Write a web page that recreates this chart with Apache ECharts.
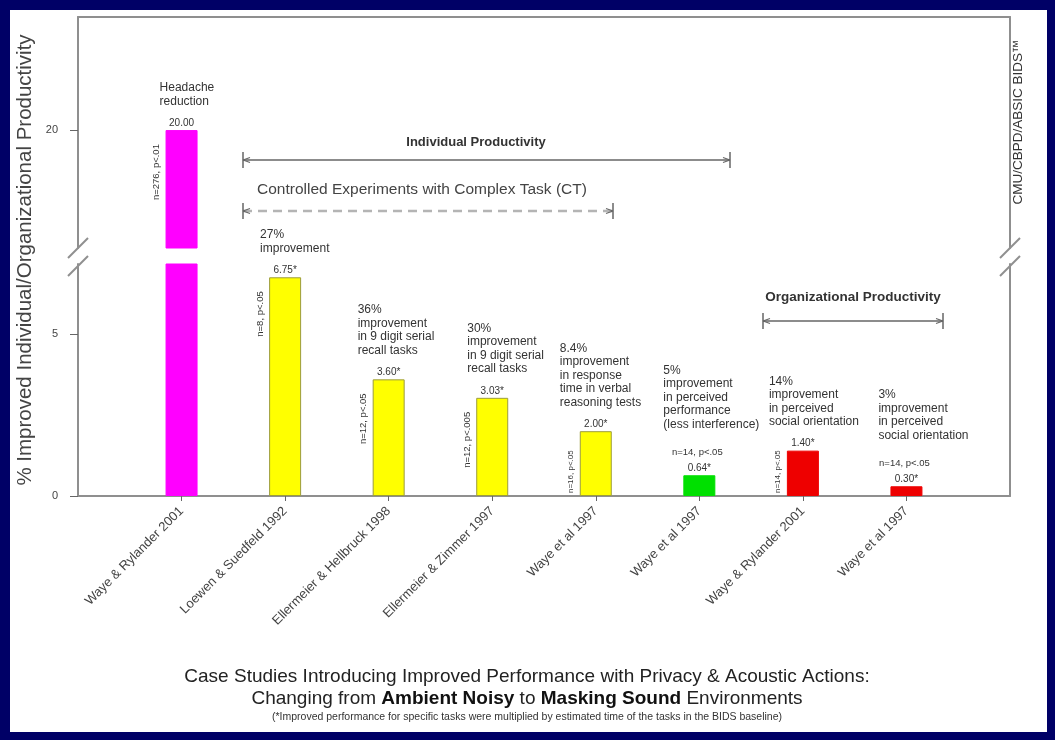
<!DOCTYPE html>
<html>
<head>
<meta charset="utf-8">
<script src="https://cdn.jsdelivr.net/npm/echarts@6/dist/echarts.min.js"></script>
<style>
  html, body { margin: 0; padding: 0; width: 1055px; height: 740px; overflow: hidden; background: #000066; }
  #chart { position: absolute; left: 10px; top: 10px; width: 1037px; height: 722px; background: #ffffff; }
</style>
</head>
<body>
<div id="chart"></div>
<script>
// ---- data ----
const studies = [
  'Waye & Rylander 2001',
  'Loewen & Suedfeld 1992',
  'Ellermeier & Hellbruck 1998',
  'Ellermeier & Zimmer 1997',
  'Waye et al 1997',
  'Waye et al 1997',
  'Waye & Rylander 2001',
  'Waye et al 1997'
];
const improvement = [20.00, 6.75, 3.60, 3.03, 2.00, 0.64, 1.40, 0.30];
const valueLabels = ['20.00', '6.75*', '3.60*', '3.03*', '2.00*', '0.64*', '1.40*', '0.30*'];
const barColors = ['#ff00ff', '#ffff00', '#ffff00', '#ffff00', '#ffff00', '#00e000', '#ee0000', '#ee0000'];
const findings = [
  'Headache\nreduction',
  '27%\nimprovement',
  '36%\nimprovement\nin 9 digit serial\nrecall tasks',
  '30%\nimprovement\nin 9 digit serial\nrecall tasks',
  '8.4%\nimprovement\nin response\ntime in verbal\nreasoning tests',
  '5%\nimprovement\nin perceived\nperformance\n(less interference)',
  '14%\nimprovement\nin perceived\nsocial orientation',
  '3%\nimprovement\nin perceived\nsocial orientation'
];
// sample notes written sideways beside a bar
const sideNotes = ['n=276, p<.01', 'n=8, p<.05', 'n=12, p<.05', 'n=12, p<.005', 'n=16, p<.05', '', 'n=14, p<.05', ''];
// sample notes written above the value label
const topNotes = ['', '', '', '', '', 'n=14, p<.05', '', 'n=14, p<.05'];
const lowerTicks = [0, 5];
const upperTicks = [20];

// ---- layout ----
const LOWER_MAX = 7.16;
const UPPER_MIN = 16.35, UPPER_MAX = 23.5;
const noteDx = [-22, -25, -31, -25, -36, -36, -34, -28];
const FONT = "'Liberation Sans', Arial, sans-serif";
const TXT = '#333333';
const FRAME = '#8f8f8f';

const cats = [''].concat(studies, [' ']);
const barItems = improvement.map((v, i) => ({
  value: v,
  itemStyle: {
    color: barColors[i],
    borderColor: barColors[i] === '#ffff00' ? '#9c9c3c' : barColors[i],
    borderWidth: 1
  }
}));
const lowerData = [null].concat(barItems, [null]);
const upperData = [null].concat(barItems.map(d => (d.value >= UPPER_MIN ? d : null)), [null]);

const chart = echarts.init(document.getElementById('chart'), null, { renderer: 'canvas' });

const frameLine = { show: true, lineStyle: { color: FRAME, width: 2 } };
const valueLabel = (limit) => ({
  show: true, position: 'top', distance: 2, fontSize: 10, color: TXT, fontFamily: FONT,
  formatter: p => (p.value != null && p.value <= limit ? valueLabels[p.dataIndex - 1] : '')
});

chart.setOption({
  animation: false,
  textStyle: { fontFamily: FONT },
  grid: [
    { left: 68, right: 37, top: 254, bottom: 236 },
    { left: 68, right: 37, top: 7, height: 231 }
  ],
  xAxis: [
    {
      type: 'category', gridIndex: 0, data: cats, boundaryGap: false,
      axisLine: frameLine,
      axisTick: { show: true, length: 5, lineStyle: { color: '#666' },
        interval: (idx) => idx > 0 && idx <= studies.length },
      axisLabel: { interval: 0, rotate: 45, fontSize: 13, color: '#444', margin: 13 }
    },
    {
      type: 'category', gridIndex: 1, data: cats, boundaryGap: false, position: 'top',
      axisLine: frameLine, axisTick: { show: false }, axisLabel: { show: false }
    }
  ],
  yAxis: [
    {
      type: 'value', gridIndex: 0, min: 0, max: LOWER_MAX,
      axisLine: frameLine,
      axisTick: { show: true, length: 8, customValues: lowerTicks, lineStyle: { color: '#666' } },
      axisLabel: { customValues: lowerTicks, fontSize: 11, color: '#444', margin: 20 },
      splitLine: { show: false }
    },
    {
      type: 'value', gridIndex: 1, min: UPPER_MIN, max: UPPER_MAX,
      axisLine: frameLine,
      axisTick: { show: true, length: 8, customValues: upperTicks, lineStyle: { color: '#666' } },
      axisLabel: { customValues: upperTicks, fontSize: 11, color: '#444', margin: 20 },
      splitLine: { show: false }
    },
    {
      type: 'value', gridIndex: 0, position: 'right', min: 0, max: LOWER_MAX,
      axisLine: frameLine, axisTick: { show: false }, axisLabel: { show: false }, splitLine: { show: false }
    },
    {
      type: 'value', gridIndex: 1, position: 'right', min: UPPER_MIN, max: UPPER_MAX,
      axisLine: frameLine, axisTick: { show: false }, axisLabel: { show: false }, splitLine: { show: false }
    }
  ],
  series: [
    { type: 'bar', xAxisIndex: 0, yAxisIndex: 0, barWidth: 32, data: lowerData, clip: true,
      label: valueLabel(LOWER_MAX) },
    { type: 'bar', xAxisIndex: 1, yAxisIndex: 1, barWidth: 32, data: upperData, clip: true,
      label: valueLabel(UPPER_MAX) }
  ]
});

// ---- annotations placed from the bars' own positions ----
const gfx = [];
const txt = (o) => gfx.push({ type: 'text', silent: true, ...o });
const line = (x1, y1, x2, y2, style) => gfx.push({ type: 'line', silent: true, shape: { x1, y1, x2, y2 }, style });
const axisY = chart.convertToPixel({ gridIndex: 0 }, [0, 0])[1];

improvement.forEach((v, i) => {
  const grid = v > LOWER_MAX ? 1 : 0;
  const [cx, top] = chart.convertToPixel({ gridIndex: grid }, [i + 1, v]);
  const hasTop = topNotes[i] !== '';
  txt({
    x: cx + noteDx[i], y: top - (hasTop ? 44 : 22),
    style: { text: findings[i], fill: TXT, fontSize: 12, fontFamily: FONT, lineHeight: 13.5,
      align: 'left', verticalAlign: 'bottom' }
  });
  if (hasTop) {
    txt({ x: cx - 2, y: top - 23,
      style: { text: topNotes[i], fill: TXT, fontSize: 9.5, fontFamily: FONT, align: 'center', verticalAlign: 'middle' } });
  }
  if (sideNotes[i]) {
    // tall bars: note hangs from near the top; short bars: note rises from the axis
    const tall = axisY - top > 80;
    txt({ x: cx - 25, y: tall ? top + 14 : axisY - 3, rotation: Math.PI / 2,
      style: { text: sideNotes[i], fill: TXT, fontSize: tall ? 9.5 : 8, fontFamily: FONT,
        align: tall ? 'right' : 'left', verticalAlign: 'middle' } });
  }
});

// axis break marks
const brk = { stroke: FRAME, lineWidth: 2 };
[68, 1000].forEach(x => {
  line(x - 10, 248, x + 10, 228, brk);
  line(x - 10, 266, x + 10, 246, brk);
});

// productivity brackets
const bracket = (x1, x2, y, style) => {
  line(x1, y, x2, y, style);
  line(x1, y - 8, x1, y + 8, { stroke: '#666', lineWidth: 1.5 });
  line(x2, y - 8, x2, y + 8, { stroke: '#666', lineWidth: 1.5 });
  line(x1, y, x1 + 7, y - 2.5, { stroke: '#666', lineWidth: 1.2 });
  line(x1, y, x1 + 7, y + 2.5, { stroke: '#666', lineWidth: 1.2 });
  line(x2, y, x2 - 7, y - 2.5, { stroke: '#666', lineWidth: 1.2 });
  line(x2, y, x2 - 7, y + 2.5, { stroke: '#666', lineWidth: 1.2 });
};
txt({ x: 466, y: 132, style: { text: 'Individual Productivity', fill: TXT, fontSize: 13, fontWeight: 'bold',
  fontFamily: FONT, align: 'center', verticalAlign: 'middle' } });
bracket(233, 720, 150, { stroke: '#666', lineWidth: 1.5 });

txt({ x: 247, y: 180, style: { text: 'Controlled Experiments with Complex Task (CT)', fill: '#444', fontSize: 15.5,
  fontFamily: FONT, align: 'left', verticalAlign: 'middle' } });
bracket(233, 603, 201, { stroke: '#b4b4b4', lineWidth: 2.5, lineDash: [9, 6] });

txt({ x: 843, y: 287, style: { text: 'Organizational Productivity', fill: TXT, fontSize: 13.5, fontWeight: 'bold',
  fontFamily: FONT, align: 'center', verticalAlign: 'middle' } });
bracket(753, 933, 311, { stroke: '#666', lineWidth: 1.5 });

// axis titles
txt({ x: 15, y: 250, rotation: Math.PI / 2,
  style: { text: '% Improved Individual/Organizational Productivity', fill: '#444', fontSize: 20.5,
    fontFamily: FONT, align: 'center', verticalAlign: 'middle' } });
txt({ x: 1008, y: 112, rotation: Math.PI / 2,
  style: { text: 'CMU/CBPD/ABSIC BIDS\u2122', fill: TXT, fontSize: 13.5,
    fontFamily: FONT, align: 'center', verticalAlign: 'middle' } });

// caption
txt({ x: 517, y: 667, style: { text: 'Case Studies Introducing Improved Performance with Privacy & Acoustic Actions:',
  fill: '#222', fontSize: 19, fontFamily: FONT, align: 'center', verticalAlign: 'middle' } });
txt({ x: 517, y: 689, style: {
  text: '{n|Changing from }{b|Ambient Noisy}{n| to }{b|Masking Sound}{n| Environments}',
  align: 'center', verticalAlign: 'middle',
  rich: {
    n: { fill: '#222', fontSize: 19, fontFamily: FONT },
    b: { fill: '#111', fontSize: 19, fontFamily: FONT, fontWeight: 'bold' }
  } } });
txt({ x: 517, y: 707, style: {
  text: '(*Improved performance for specific tasks were multiplied by estimated time of the tasks in the BIDS baseline)',
  fill: '#333', fontSize: 10.5, fontFamily: FONT, align: 'center', verticalAlign: 'middle' } });

chart.setOption({ graphic: { elements: gfx } });
</script>
</body>
</html>
